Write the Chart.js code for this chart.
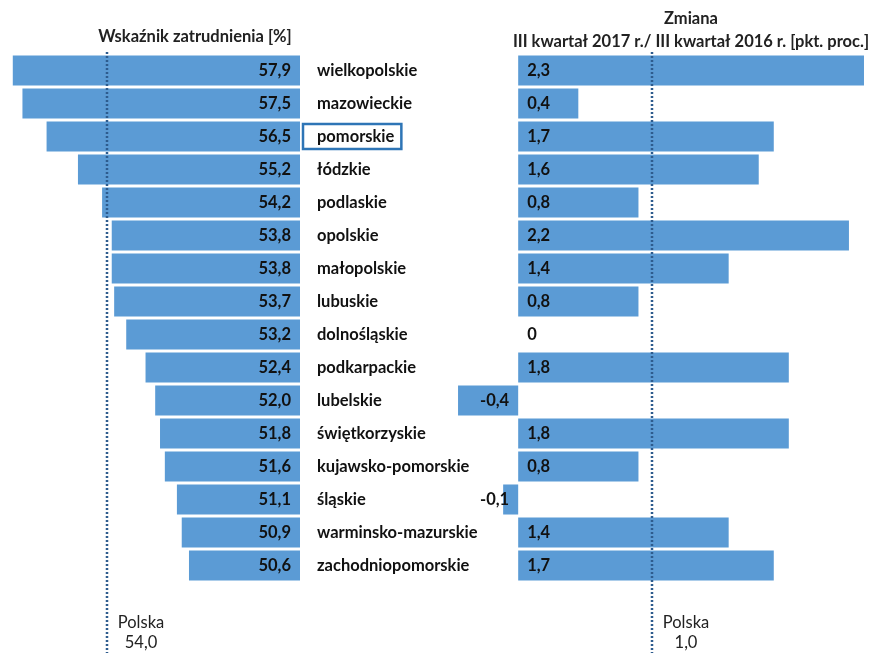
<!DOCTYPE html>
<html>
<head>
<meta charset="utf-8">
<script src="https://cdn.jsdelivr.net/npm/chart.js@4.4.1/dist/chart.umd.min.js"></script>
<style>
  html, body { margin: 0; padding: 0; background: #fff; }
  #wrap { position: relative; width: 870px; height: 653px; overflow: hidden; }
  #leftBox { position: absolute; left: 0; top: 0; width: 500px; height: 653px; }
  #rightBox { position: absolute; left: 440px; top: 0; width: 430px; height: 653px; }
</style>
</head>
<body>
<div id="wrap">
  <div id="leftBox"><canvas id="leftChart"></canvas></div>
  <div id="rightBox"><canvas id="rightChart"></canvas></div>
</div>
<script>
// data
const regions = ['wielkopolskie', 'mazowieckie', 'pomorskie', 'łódzkie', 'podlaskie', 'opolskie',
  'małopolskie', 'lubuskie', 'dolnośląskie', 'podkarpackie', 'lubelskie', 'świętkorzyskie',
  'kujawsko-pomorskie', 'śląskie', 'warminsko-mazurskie', 'zachodniopomorskie'];
const employmentRate = [57.9, 57.5, 56.5, 55.2, 54.2, 53.8, 53.8, 53.7, 53.2, 52.4, 52.0, 51.8, 51.6, 51.1, 50.9, 50.6];
const changePts = [2.3, 0.4, 1.7, 1.6, 0.8, 2.2, 1.4, 0.8, 0, 1.8, -0.4, 1.8, 0.8, -0.1, 1.4, 1.7];
const polskaRate = 54.0;
const polskaChange = 1.0;
const polskaChangeLine = 0.89; // where the dotted line sits in the picture
const highlighted = 'pomorskie';

const barColor = '#5B9BD5';
const lineColor = '#2E5C8E';
const FONT = 'Lato, "Open Sans", sans-serif';
const SIZE = '16.5px ';

function fmt(v) {
    return v === 0 ? '0' : v.toFixed(1).replace('.', ',');
}

// dotted reference line + "Polska" note
function refLine(value, label) {
    return {
        id: 'refLine',
        afterDatasetsDraw(chart) {
            const ctx = chart.ctx;
            const x = Math.round(chart.scales.x.getPixelForValue(value));
            ctx.save();
            ctx.strokeStyle = lineColor;
            ctx.lineWidth = 2.5;
            ctx.setLineDash([2, 2]);
            ctx.beginPath();
            ctx.moveTo(x, 52);
            ctx.lineTo(x, chart.height);
            ctx.stroke();
            ctx.setLineDash([]);
            ctx.fillStyle = '#222';
            ctx.font = SIZE + FONT;
            ctx.textAlign = 'center';
            ctx.textBaseline = 'middle';
            ctx.fillText('Polska', x + 34, 623);
            ctx.fillText(label, x + 34, 643);
            ctx.restore();
        }
    };
}

const leftLabels = {
    id: 'leftLabels',
    afterDatasetsDraw(chart) {
        const ctx = chart.ctx;
        const meta = chart.getDatasetMeta(0);
        const right = chart.chartArea.right;
        ctx.save();
        ctx.textBaseline = 'middle';
        meta.data.forEach((bar, i) => {
            ctx.font = 'bold ' + SIZE + FONT;
            ctx.fillStyle = '#111';
            ctx.textAlign = 'right';
            ctx.fillText(fmt(employmentRate[i]), right - 9, bar.y);
            ctx.textAlign = 'left';
            ctx.fillText(regions[i], right + 17, bar.y);
            if (regions[i] === highlighted) {
                const w = ctx.measureText(regions[i]).width;
                ctx.strokeStyle = '#2E75B6';
                ctx.lineWidth = 2.5;
                ctx.strokeRect(right + 3, bar.y - 12.5, w + 21, 25);
            }
        });
        ctx.font = 'bold ' + SIZE + FONT;
        ctx.textAlign = 'center';
        ctx.fillStyle = '#222';
        ctx.fillText('Wskaźnik zatrudnienia [%]', 195, 37);
        ctx.restore();
    }
};

const rightLabels = {
    id: 'rightLabels',
    afterDatasetsDraw(chart) {
        const ctx = chart.ctx;
        const meta = chart.getDatasetMeta(0);
        const zero = chart.scales.x.getPixelForValue(0);
        ctx.save();
        ctx.textBaseline = 'middle';
        ctx.font = 'bold ' + SIZE + FONT;
        ctx.fillStyle = '#111';
        meta.data.forEach((bar, i) => {
            const v = changePts[i];
            if (v < 0) {
                ctx.textAlign = 'right';
                ctx.fillText(fmt(v), zero - 9, bar.y);
            } else {
                ctx.textAlign = 'left';
                ctx.fillText(fmt(v), zero + 9, bar.y);
            }
        });
        ctx.textAlign = 'center';
        ctx.fillStyle = '#222';
        ctx.fillText('Zmiana', 251, 19);
        ctx.fillText('III kwartał 2017 r./ III kwartał 2016 r. [pkt. proc.]', 251, 42);
        ctx.restore();
    }
};

const commonOpts = {
    indexAxis: 'y',
    responsive: true,
    maintainAspectRatio: false,
    animation: false,
    plugins: { legend: { display: false }, tooltip: { enabled: false } },
    layout: { padding: { top: 54, bottom: 71, left: 0, right: 0 } }
};

new Chart(document.getElementById('leftChart'), {
    type: 'bar',
    data: {
        labels: regions,
        datasets: [{
            data: employmentRate,
            backgroundColor: barColor,
            borderWidth: 0,
            barPercentage: 0.91,
            categoryPercentage: 1
        }]
    },
    options: Object.assign({}, commonOpts, {
        scales: {
            x: { display: false, reverse: true, min: 46, max: 58.43 },
            y: {
                position: 'right',
                grid: { display: false },
                border: { display: false },
                ticks: { display: false },
                afterFit(scale) { scale.width = 200; }
            }
        }
    }),
    plugins: [leftLabels, refLine(polskaRate, fmt(polskaRate))]
});

new Chart(document.getElementById('rightChart'), {
    type: 'bar',
    data: {
        labels: regions,
        datasets: [{
            data: changePts,
            backgroundColor: barColor,
            borderWidth: 0,
            barPercentage: 0.91,
            categoryPercentage: 1
        }]
    },
    options: Object.assign({}, commonOpts, {
        scales: {
            x: { display: false, min: -0.52, max: 2.34 },
            y: { display: false }
        }
    }),
    plugins: [rightLabels, refLine(polskaChangeLine, fmt(polskaChange))]
});
</script>
</body>
</html>
